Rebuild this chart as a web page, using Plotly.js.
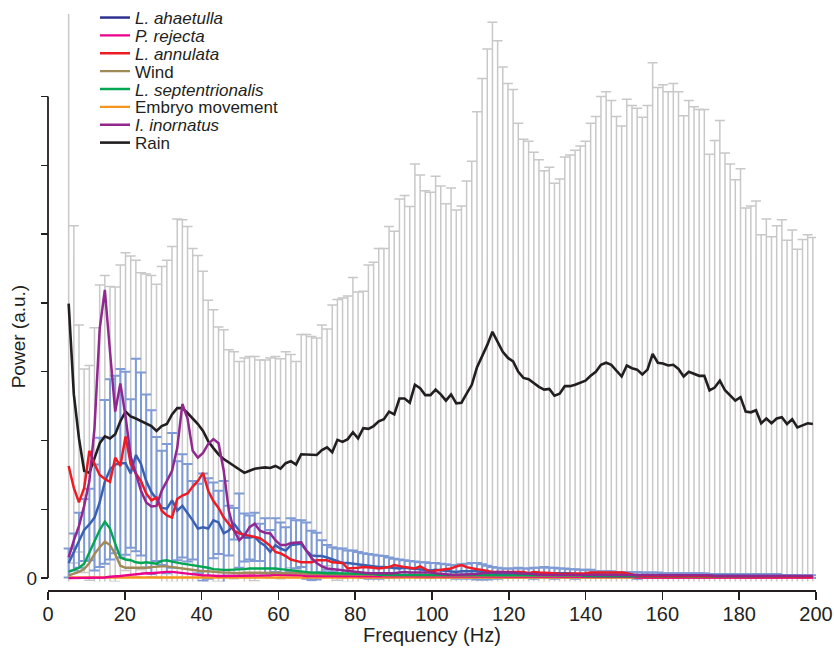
<!DOCTYPE html>
<html><head><meta charset="utf-8">
<script src="https://cdn.plot.ly/plotly-3.0.1.min.js"></script>
<style>html,body{margin:0;padding:0;background:#fff}#chart{width:834px;height:651px}</style>
</head><body><div id="chart"></div>
<script>
// Frequency bins (Hz)
const freqHz = [
5.38,6.73,8.07,9.42,10.77,12.11,13.46,14.80,16.15,17.50,
18.84,20.19,21.53,22.88,24.22,25.57,26.92,28.26,29.61,30.95,
32.30,33.65,34.99,36.34,37.68,39.03,40.37,41.72,43.07,44.41,
45.76,47.10,48.45,49.80,51.14,52.49,53.83,55.18,56.52,57.87,
59.22,60.56,61.91,63.25,64.60,65.94,67.29,68.64,69.98,71.33,
72.67,74.02,75.37,76.71,78.06,79.40,80.75,82.10,83.44,84.79,
86.13,87.48,88.82,90.17,91.52,92.86,94.21,95.55,96.90,98.25,
99.59,100.94,102.28,103.63,104.97,106.32,107.67,109.01,110.36,111.70,
113.05,114.40,115.74,117.09,118.43,119.78,121.12,122.47,123.82,125.16,
126.51,127.85,129.20,130.55,131.89,133.24,134.58,135.93,137.27,138.62,
139.97,141.31,142.66,144.00,145.35,146.69,148.04,149.39,150.73,152.08,
153.42,154.77,156.12,157.46,158.81,160.15,161.50,162.84,164.19,165.54,
166.88,168.23,169.57,170.92,172.27,173.61,174.96,176.30,177.65,178.99,
180.34,181.69,183.03,184.38,185.72,187.07,188.42,189.76,191.11,192.45,
193.80,195.14,196.49,197.84,199.18];

// Rain: mean and mean+SD
const rainMean = [
3.99,2.67,2.03,1.56,1.53,1.75,1.96,2.06,2.03,2.09,
2.28,2.42,2.35,2.32,2.28,2.25,2.21,2.14,2.21,2.24,
2.38,2.47,2.47,2.40,2.32,2.24,2.14,1.99,1.89,1.80,
1.73,1.68,1.64,1.59,1.53,1.56,1.59,1.60,1.61,1.60,
1.63,1.59,1.67,1.70,1.65,1.80,1.80,1.80,1.79,1.86,
1.90,1.83,2.01,1.98,2.02,2.12,2.03,2.18,2.17,2.21,
2.28,2.31,2.42,2.38,2.61,2.61,2.55,2.81,2.76,2.66,
2.66,2.74,2.67,2.58,2.67,2.54,2.55,2.68,2.81,3.06,
3.22,3.39,3.58,3.43,3.29,3.20,3.15,3.00,2.91,2.89,
2.83,2.78,2.74,2.75,2.65,2.68,2.79,2.79,2.81,2.84,
2.87,2.94,3.00,3.10,3.13,3.10,3.02,2.93,3.09,3.05,
3.03,2.96,3.03,3.26,3.13,3.12,3.09,3.10,3.04,2.93,
3.00,2.97,2.94,2.94,2.73,2.77,2.87,2.73,2.66,2.58,
2.63,2.42,2.41,2.44,2.25,2.32,2.25,2.32,2.34,2.24,
2.31,2.19,2.22,2.25,2.24];
const rainUpper = [
9.50,5.12,3.68,3.04,3.09,3.64,4.26,4.40,4.24,4.23,
4.55,4.73,4.68,4.62,4.44,4.42,4.40,4.27,4.53,4.62,
4.82,5.22,5.21,5.11,4.79,4.69,4.46,4.04,3.90,3.65,
3.61,3.32,3.29,3.15,3.20,3.22,3.22,3.17,3.17,3.20,
3.22,3.19,3.29,3.25,3.15,3.54,3.54,3.51,3.49,3.68,
3.62,3.97,4.05,4.07,4.10,4.37,4.16,4.17,4.55,4.59,
4.79,4.79,5.11,5.04,5.51,5.56,5.40,6.02,5.86,5.63,
5.61,5.84,5.70,5.44,5.67,5.35,5.41,5.77,6.06,6.78,
7.26,7.69,8.08,7.81,7.43,7.19,7.10,6.61,6.38,6.35,
6.19,6.08,5.92,5.97,5.74,5.80,6.12,6.15,6.22,6.28,
6.35,6.61,6.71,7.00,7.07,6.94,6.71,6.57,6.96,6.87,
6.83,6.70,6.87,7.49,7.13,7.17,7.07,7.19,7.07,6.72,
6.94,6.85,6.81,6.81,6.16,6.36,6.65,6.18,6.02,5.79,
5.95,5.38,5.41,5.48,4.99,5.22,4.96,5.12,5.21,4.91,
5.06,4.78,4.92,4.99,4.95];

// L. ahaetulla: mean and mean+SD
const ahaetullaMean = [
0.22,0.38,0.55,0.70,0.78,0.88,1.10,1.40,1.58,1.65,
1.67,1.67,1.52,1.79,1.66,1.41,1.25,1.15,1.02,1.01,
1.13,0.98,1.05,0.95,0.84,0.72,0.74,0.72,0.84,0.81,
0.65,0.69,0.79,0.69,0.59,0.59,0.60,0.52,0.47,0.38,
0.48,0.43,0.40,0.48,0.49,0.50,0.40,0.33,0.32,0.32,
0.30,0.27,0.24,0.22,0.22,0.21,0.20,0.18,0.17,0.17,
0.16,0.16,0.15,0.15,0.14,0.15,0.14,0.13,0.12,0.12,
0.11,0.12,0.11,0.10,0.10,0.09,0.10,0.10,0.11,0.10,
0.09,0.08,0.08,0.07,0.07,0.07,0.07,0.08,0.07,0.07,
0.07,0.08,0.08,0.08,0.07,0.07,0.07,0.07,0.06,0.06,
0.06,0.06,0.05,0.05,0.05,0.05,0.05,0.05,0.05,0.05,
0.04,0.04,0.04,0.04,0.04,0.04,0.04,0.04,0.04,0.04,
0.04,0.04,0.04,0.04,0.04,0.04,0.04,0.04,0.04,0.04,
0.04,0.03,0.03,0.03,0.03,0.03,0.03,0.03,0.03,0.03,
0.03,0.03,0.02,0.02,0.02];
const ahaetullaUpper = [
0.43,0.65,0.95,1.15,1.30,1.65,2.04,2.59,2.89,2.94,
3.04,3.00,2.60,3.19,2.99,2.67,2.44,2.05,1.85,1.95,
2.11,1.70,1.80,1.66,1.41,1.37,1.52,1.45,1.39,1.27,
1.41,1.05,1.02,1.23,0.94,0.91,0.95,0.79,0.87,0.70,
0.87,0.81,0.74,0.87,0.84,0.84,0.81,0.69,0.66,0.55,
0.48,0.45,0.43,0.43,0.40,0.40,0.38,0.36,0.35,0.34,
0.33,0.32,0.30,0.28,0.27,0.26,0.25,0.24,0.23,0.23,
0.22,0.22,0.21,0.20,0.19,0.19,0.20,0.21,0.22,0.22,
0.20,0.18,0.16,0.15,0.14,0.14,0.14,0.15,0.14,0.14,
0.15,0.15,0.16,0.15,0.15,0.14,0.14,0.13,0.13,0.12,
0.12,0.12,0.10,0.10,0.10,0.10,0.09,0.09,0.09,0.09,
0.09,0.08,0.08,0.08,0.08,0.07,0.07,0.07,0.07,0.07,
0.07,0.07,0.07,0.07,0.06,0.06,0.06,0.06,0.06,0.06,
0.06,0.06,0.06,0.06,0.06,0.06,0.06,0.06,0.04,0.04,
0.04,0.04,0.04,0.04,0.04];

const annulata = [
1.63,1.31,1.10,1.31,1.85,1.66,1.50,1.44,1.40,1.75,
1.63,2.06,1.66,1.52,1.41,1.23,1.13,1.17,0.98,0.91,
0.88,1.15,1.20,1.23,1.33,1.41,1.53,1.27,1.12,1.02,
0.88,0.78,0.69,0.65,0.63,0.61,0.60,0.58,0.53,0.47,
0.38,0.36,0.32,0.27,0.25,0.23,0.23,0.23,0.26,0.26,
0.26,0.23,0.22,0.22,0.14,0.14,0.15,0.16,0.16,0.15,
0.14,0.15,0.16,0.19,0.17,0.16,0.15,0.14,0.17,0.13,
0.09,0.11,0.12,0.13,0.14,0.17,0.19,0.16,0.14,0.13,
0.12,0.10,0.09,0.09,0.09,0.10,0.10,0.10,0.09,0.07,
0.09,0.08,0.08,0.07,0.07,0.06,0.06,0.06,0.07,0.07,
0.07,0.08,0.08,0.09,0.09,0.09,0.09,0.08,0.07,0.05,
0.04,0.03,0.03,0.03,0.03,0.03,0.03,0.03,0.03,0.03,
0.03,0.03,0.03,0.03,0.03,0.03,0.03,0.03,0.03,0.02,
0.02,0.02,0.02,0.02,0.02,0.02,0.02,0.02,0.02,0.02,
0.02,0.02,0.02,0.02,0.02];

const inornatus = [
0.30,0.55,0.76,1.05,1.41,2.18,3.62,4.19,3.29,2.42,
2.83,2.35,1.77,1.52,1.27,1.10,1.04,1.05,1.27,1.41,
1.56,1.89,2.53,2.32,1.85,1.75,1.82,1.95,2.02,1.96,
1.56,0.98,0.69,0.55,0.62,0.74,0.79,0.69,0.66,0.65,
0.55,0.48,0.48,0.51,0.51,0.52,0.40,0.29,0.22,0.17,
0.14,0.13,0.12,0.11,0.10,0.09,0.08,0.08,0.07,0.07,
0.07,0.06,0.06,0.07,0.08,0.09,0.08,0.08,0.09,0.09,
0.08,0.07,0.06,0.05,0.05,0.05,0.05,0.06,0.06,0.06,
0.07,0.07,0.08,0.09,0.09,0.08,0.08,0.07,0.07,0.06,
0.06,0.05,0.05,0.05,0.05,0.05,0.05,0.05,0.05,0.05,
0.05,0.05,0.05,0.05,0.05,0.05,0.05,0.05,0.05,0.05,
0.04,0.04,0.04,0.04,0.04,0.04,0.04,0.04,0.04,0.04,
0.04,0.04,0.04,0.04,0.04,0.03,0.03,0.03,0.03,0.03,
0.03,0.03,0.03,0.03,0.03,0.03,0.03,0.03,0.03,0.03,
0.03,0.03,0.03,0.03,0.03];

const septentrionalis = [
0.09,0.12,0.15,0.21,0.38,0.55,0.70,0.82,0.72,0.50,
0.30,0.27,0.26,0.23,0.22,0.23,0.22,0.21,0.25,0.26,
0.24,0.22,0.21,0.20,0.19,0.17,0.16,0.15,0.13,0.12,
0.12,0.12,0.12,0.12,0.13,0.14,0.14,0.15,0.15,0.14,
0.14,0.13,0.12,0.12,0.11,0.10,0.09,0.08,0.08,0.07,
0.07,0.07,0.07,0.06,0.06,0.06,0.06,0.06,0.06,0.06,
0.05,0.05,0.05,0.05,0.05,0.05,0.05,0.05,0.05,0.05,
0.05,0.04,0.04,0.04,0.04,0.04,0.04,0.04,0.04,0.04,
0.04,0.04,0.04,0.04,0.04,0.04,0.04,0.04,0.04,0.04,
0.04,0.04,0.04,0.04,0.04,0.04,0.04,0.04,0.04,0.04,
0.03,0.03,0.03,0.03,0.03,0.03,0.03,0.03,0.03,0.03,
0.03,0.03,0.03,0.03,0.03,0.03,0.03,0.03,0.03,0.03,
0.03,0.03,0.02,0.02,0.02,0.02,0.02,0.02,0.02,0.02,
0.02,0.02,0.02,0.02,0.02,0.02,0.02,0.02,0.02,0.02,
0.02,0.02,0.02,0.02,0.02];

const wind = [
0.04,0.06,0.09,0.13,0.22,0.35,0.45,0.53,0.48,0.35,
0.18,0.15,0.15,0.14,0.14,0.15,0.16,0.17,0.17,0.17,
0.16,0.15,0.13,0.12,0.12,0.11,0.10,0.10,0.09,0.09,
0.08,0.08,0.07,0.07,0.08,0.08,0.08,0.08,0.08,0.08,
0.08,0.08,0.07,0.07,0.07,0.07,0.06,0.06,0.06,0.06,
0.06,0.06,0.05,0.05,0.05,0.05,0.05,0.05,0.05,0.05,
0.05,0.04,0.04,0.04,0.04,0.04,0.04,0.04,0.04,0.04,
0.04,0.04,0.04,0.04,0.04,0.04,0.04,0.04,0.04,0.04,
0.04,0.04,0.04,0.04,0.04,0.04,0.04,0.04,0.04,0.04,
0.03,0.03,0.03,0.03,0.03,0.03,0.03,0.03,0.03,0.03,
0.03,0.03,0.03,0.03,0.03,0.03,0.03,0.03,0.03,0.03,
0.03,0.03,0.03,0.03,0.03,0.03,0.03,0.03,0.03,0.03,
0.02,0.02,0.02,0.02,0.02,0.02,0.02,0.02,0.02,0.02,
0.02,0.02,0.02,0.02,0.02,0.02,0.02,0.02,0.02,0.02,
0.02,0.02,0.02,0.02,0.02];

const rejecta = [
0.00,0.00,0.00,0.00,0.00,0.01,0.01,0.01,0.02,0.02,
0.03,0.04,0.05,0.06,0.07,0.07,0.07,0.08,0.09,0.09,
0.09,0.08,0.07,0.06,0.05,0.05,0.04,0.04,0.03,0.03,
0.03,0.03,0.03,0.03,0.03,0.03,0.04,0.04,0.04,0.04,
0.05,0.05,0.05,0.04,0.04,0.04,0.03,0.03,0.03,0.03,
0.03,0.03,0.03,0.03,0.03,0.03,0.03,0.03,0.03,0.03,
0.02,0.02,0.02,0.02,0.02,0.02,0.02,0.02,0.02,0.02,
0.02,0.02,0.02,0.02,0.02,0.02,0.02,0.02,0.02,0.02,
0.02,0.02,0.02,0.02,0.02,0.02,0.02,0.02,0.02,0.02,
0.02,0.02,0.02,0.02,0.02,0.02,0.02,0.02,0.02,0.02,
0.02,0.02,0.02,0.02,0.02,0.02,0.02,0.02,0.02,0.02,
0.01,0.01,0.01,0.01,0.01,0.01,0.01,0.01,0.01,0.01,
0.01,0.01,0.01,0.01,0.01,0.01,0.01,0.01,0.01,0.01,
0.01,0.01,0.01,0.01,0.01,0.01,0.01,0.01,0.01,0.01,
0.01,0.01,0.01,0.01,0.01];

const embryo = [
0.01,0.01,0.01,0.01,0.01,0.01,0.01,0.01,0.01,0.01,
0.01,0.01,0.01,0.01,0.01,0.01,0.01,0.01,0.01,0.01,
0.01,0.01,0.01,0.01,0.01,0.01,0.01,0.01,0.01,0.01,
0.01,0.01,0.01,0.01,0.01,0.01,0.01,0.01,0.01,0.01,
0.01,0.01,0.01,0.01,0.01,0.01,0.01,0.01,0.01,0.01,
0.01,0.01,0.01,0.01,0.01,0.01,0.01,0.01,0.01,0.01,
0.01,0.01,0.01,0.01,0.01,0.01,0.01,0.01,0.01,0.01,
0.01,0.01,0.01,0.01,0.01,0.01,0.01,0.01,0.01,0.01,
0.01,0.01,0.01,0.01,0.01,0.01,0.01,0.01,0.01,0.01,
0.01,0.01,0.01,0.01,0.01,0.01,0.01,0.01,0.01,0.01,
0.01,0.01,0.01,0.01,0.01,0.01,0.01,0.01,0.01,0.01,
0.01,0.01,0.01,0.01,0.01,0.01,0.01,0.01,0.01,0.01,
0.01,0.01,0.01,0.01,0.01,0.01,0.01,0.01,0.01,0.01,
0.01,0.01,0.01,0.01,0.01,0.01,0.01,0.01,0.01,0.01,
0.01,0.01,0.01,0.01,0.01];

const xTicks = [0,20,40,60,80,100,120,140,160,180,200];
const yTicks = [0,1,2,3,4,5,6,7];
const yTickText = ['0','','','','','','',''];

const FONT = 'Liberation Sans, Arial, Helvetica, sans-serif';
const INK = '#231f20';

const rainSD = rainUpper.map((u, i) => u - rainMean[i]);
const ahaetullaSD = ahaetullaUpper.map((u, i) => u - ahaetullaMean[i]);

const hidden = {size: 1, color: 'rgba(0,0,0,0)'};

const traces = [
  {x: freqHz, y: rainMean, type: 'scatter', mode: 'markers', marker: hidden, showlegend: false,
   error_y: {type: 'data', array: rainSD, symmetric: true, color: '#c8c8c8', thickness: 1.5, width: 5}},
  {x: freqHz, y: ahaetullaMean, type: 'scatter', mode: 'markers', marker: hidden, showlegend: false,
   error_y: {type: 'data', array: ahaetullaSD, symmetric: true, color: '#7f9bd6', thickness: 2, width: 5}},
  {x: freqHz, y: rainMean, type: 'scatter', mode: 'lines', name: 'Rain', legend: 'legend8',
   line: {color: INK, width: 2.6}},
  {x: freqHz, y: embryo, type: 'scatter', mode: 'lines', name: 'Embryo movement', legend: 'legend6',
   line: {color: '#f7941d', width: 2.4}},
  {x: freqHz, y: rejecta, type: 'scatter', mode: 'lines', name: '<i>P. rejecta</i>', legend: 'legend2',
   line: {color: '#ec008c', width: 2.4}},
  {x: freqHz, y: wind, type: 'scatter', mode: 'lines', name: 'Wind', legend: 'legend4',
   line: {color: '#a08a58', width: 2.4}},
  {x: freqHz, y: septentrionalis, type: 'scatter', mode: 'lines', name: '<i>L. septentrionalis</i>', legend: 'legend5',
   line: {color: '#00a651', width: 2.4}},
  {x: freqHz, y: ahaetullaMean, type: 'scatter', mode: 'lines', name: '<i>L. ahaetulla</i>', showlegend: false,
   line: {color: '#3a60b2', width: 2.5}},
  {x: [null], y: [null], type: 'scatter', mode: 'lines', name: '<i>L. ahaetulla</i>', legend: 'legend',
   line: {color: '#2e3192', width: 2.5}},
  {x: freqHz, y: annulata, type: 'scatter', mode: 'lines', name: '<i>L. annulata</i>', legend: 'legend3',
   line: {color: '#ed1c24', width: 2.5}},
  {x: freqHz, y: inornatus, type: 'scatter', mode: 'lines', name: '<i>I. inornatus</i>', legend: 'legend7',
   line: {color: '#92278f', width: 2.5}}
];

// geometry (pixels): paper spans 0..590, plot area 10..581.5
const PAPER_BOTTOM = 590, PAPER_H = PAPER_BOTTOM;
const Y_RANGE = [-0.05, 8.2];
const Y_DOMAIN = [8.5 / PAPER_H, 1 - 10 / PAPER_H];
const yPaper = v => Y_DOMAIN[0] + (v - Y_RANGE[0]) / (Y_RANGE[1] - Y_RANGE[0]) * (Y_DOMAIN[1] - Y_DOMAIN[0]);
const pxX = p => (p - 48) / 768;
const pxY = p => (PAPER_BOTTOM - p) / PAPER_H;

function legendAt(py) {
  return {x: pxX(95), xanchor: 'left', y: pxY(py), yanchor: 'middle',
          bgcolor: 'rgba(0,0,0,0)', borderwidth: 0, font: {family: FONT, size: 17, color: INK}};
}

const layout = {
  width: 834, height: 651,
  margin: {l: 48, r: 18, t: 0, b: 651 - PAPER_BOTTOM},
  paper_bgcolor: '#fff', plot_bgcolor: '#fff',
  font: {family: FONT, color: INK},
  showlegend: true,
  xaxis: {range: [0, 200], domain: [0, 1], anchor: 'free', position: 0,
          showline: true, linecolor: INK, linewidth: 1.5,
          ticks: 'outside', ticklen: 8, tickwidth: 1.5, tickcolor: INK,
          tickmode: 'array', tickvals: xTicks, ticklabelstandoff: -3,
          tickfont: {family: FONT, size: 20, color: INK},
          showgrid: false, zeroline: false},
  yaxis: {range: Y_RANGE, domain: Y_DOMAIN, anchor: 'free', position: 0,
          showline: false,
          ticks: 'outside', ticklen: 7, tickwidth: 1.5, tickcolor: INK,
          tickmode: 'array', tickvals: yTicks, ticktext: yTickText,
          tickfont: {family: FONT, size: 19, color: INK},
          showgrid: false, zeroline: false},
  shapes: [{type: 'line', xref: 'paper', yref: 'paper', layer: 'above',
            x0: 0, x1: 0, y0: yPaper(0), y1: yPaper(7),
            line: {color: INK, width: 1.8}}],
  annotations: [
    {text: 'Frequency (Hz)', xref: 'paper', yref: 'paper', x: 0.5, y: pxY(635),
     xanchor: 'center', yanchor: 'middle', showarrow: false,
     font: {family: FONT, size: 20, color: INK}},
    {text: 'Power (a.u.)', xref: 'paper', yref: 'y', x: pxX(18), y: 3.5, textangle: -90,
     xanchor: 'center', yanchor: 'middle', showarrow: false,
     font: {family: FONT, size: 19, color: INK}}
  ],
  legend: legendAt(14),
  legend2: legendAt(32),
  legend3: legendAt(50),
  legend4: legendAt(68),
  legend5: legendAt(86),
  legend6: legendAt(104),
  legend7: legendAt(122),
  legend8: legendAt(140)
};

Plotly.newPlot('chart', traces, layout, {staticPlot: true, displayModeBar: false});
</script></body></html>
